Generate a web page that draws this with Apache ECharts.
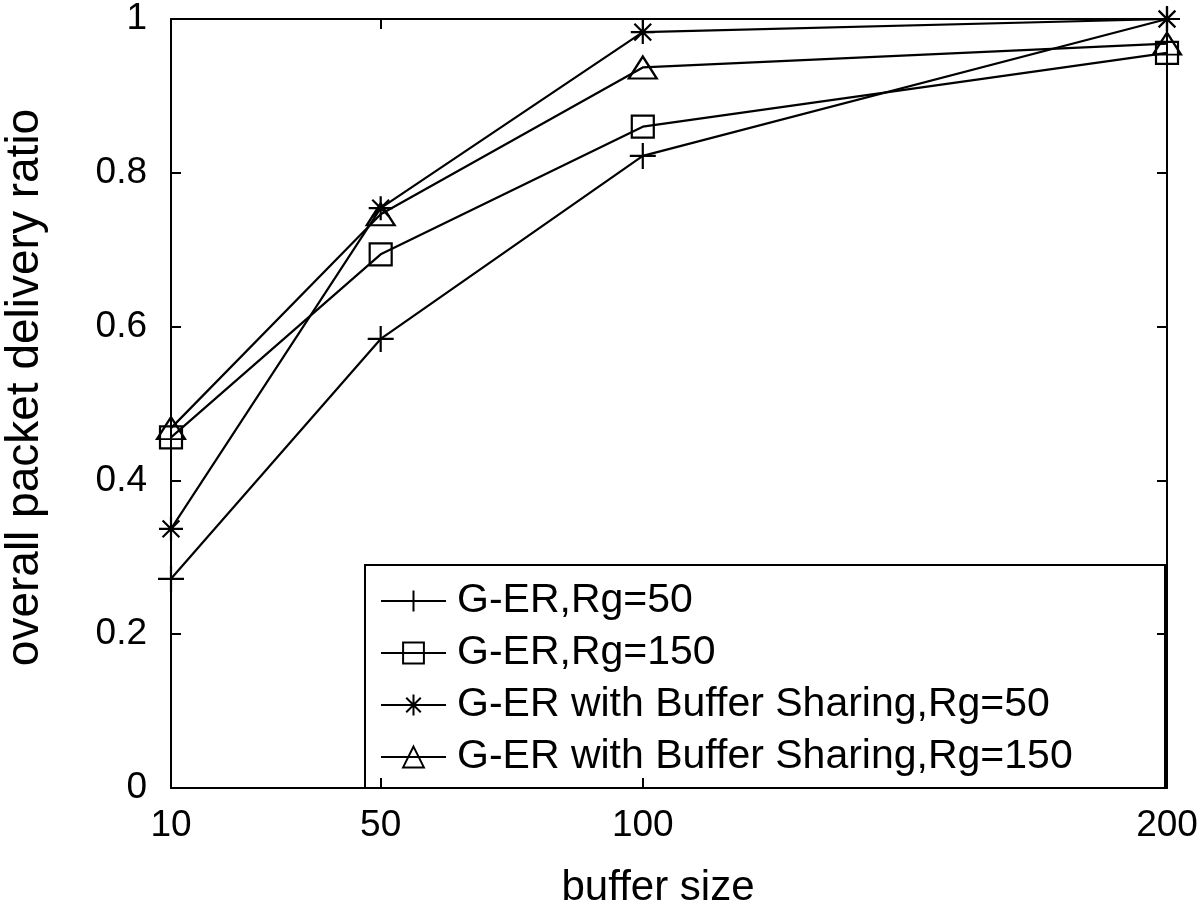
<!DOCTYPE html>
<html>
<head>
<meta charset="utf-8">
<script src="https://cdn.jsdelivr.net/npm/echarts@6/dist/echarts.min.js"></script>
<style>
html,body{margin:0;padding:0;background:#fff;}
#chart{width:1200px;height:912px;}
</style>
</head>
<body>
<div id="chart"></div>
<script>
var bufferSizes = [10, 50, 100, 200];
var xTicks = [10, 50, 100, 200];
var serNames = ['G-ER,Rg=50', 'G-ER,Rg=150', 'G-ER with Buffer Sharing,Rg=50', 'G-ER with Buffer Sharing,Rg=150'];
var gerRg50 = [0.272, 0.584, 0.822, 1.0];
var gerRg150 = [0.456, 0.694, 0.860, 0.956];
var bsRg50 = [0.337, 0.754, 0.983, 1.0];
var bsRg150 = [0.468, 0.746, 0.937, 0.968];

var FONT = '"Liberation Sans", Arial, Helvetica, sans-serif';
var plusPath = 'path://M0,-10 L0,10 M-10,0 L10,0';
var starPath = 'path://M0,-10 L0,10 M-10,0 L10,0 M-7,-7 L7,7 M-7,7 L7,-7';

function pairs(vals) {
  return bufferSizes.map(function (x, i) { return [x, vals[i]]; });
}
function mkSeries(name, vals, symbol, size) {
  return {
    name: name, type: 'line', data: pairs(vals), clip: false,
    symbol: symbol, symbolSize: size, showAllSymbol: true,
    lineStyle: { color: '#000', width: 2.2 },
    itemStyle: { color: 'rgba(255,255,255,0)', borderColor: '#000', borderWidth: 2.2 },
    emphasis: { disabled: true },
    animation: false
  };
}

var chart = echarts.init(document.getElementById('chart'));
var axisCommon = {
  axisLine: { show: true, onZero: false, lineStyle: { color: '#000', width: 2 } },
  axisTick: { show: true, inside: true, length: 10, lineStyle: { color: '#000', width: 2 } },
  splitLine: { show: false }
};
chart.setOption({
  backgroundColor: '#fff',
  animation: false,
  grid: { left: 171, right: 33, top: 19, bottom: 124, containLabel: false, outerBoundsMode: 'none' },
  xAxis: [
    Object.assign({}, axisCommon, {
      type: 'value', min: 10, max: 200, position: 'bottom',
      name: 'buffer size', nameLocation: 'middle', nameGap: 79,
      nameTextStyle: { fontSize: 42, fontFamily: FONT, color: '#000', verticalAlign: 'top', padding: [0, 22, 0, 0] },
      axisTick: Object.assign({}, axisCommon.axisTick, { customValues: xTicks }),
      axisLabel: { customValues: xTicks, fontSize: 37, fontFamily: FONT, color: '#000', margin: 19 }
    }),
    Object.assign({}, axisCommon, {
      type: 'value', min: 10, max: 200, position: 'top',
      axisTick: Object.assign({}, axisCommon.axisTick, { customValues: xTicks }),
      axisLabel: { show: false }
    })
  ],
  yAxis: [
    Object.assign({}, axisCommon, {
      type: 'value', min: 0, max: 1, interval: 0.2, position: 'left',
      name: 'overall packet delivery ratio', nameLocation: 'middle', nameGap: 123,
      nameTextStyle: { fontSize: 46, fontFamily: FONT, color: '#000', padding: [0, 0, 0, 32] },
      axisLabel: { fontSize: 37, fontFamily: FONT, color: '#000', margin: 24 }
    }),
    Object.assign({}, axisCommon, {
      type: 'value', min: 0, max: 1, interval: 0.2, position: 'right',
      axisLabel: { show: false }
    })
  ],
  legend: {
    orient: 'vertical', left: 365, top: 565,
    padding: [13, 10, 10, 15],
    itemWidth: 65, itemHeight: 26, itemGap: 6,
    textStyle: { fontSize: 41, fontFamily: FONT, color: '#000', lineHeight: 46, padding: [0, 0, 0, 6] },
    data: serNames,
    selectedMode: false
  },
  graphic: [{
    type: 'rect', z: -1,
    shape: { x: 365, y: 565, width: 800, height: 223 },
    style: { fill: '#fff', stroke: '#000', lineWidth: 2 }
  }],
  series: [
    mkSeries(serNames[0], gerRg50, plusPath, 26),
    mkSeries(serNames[1], gerRg150, 'rect', 22),
    mkSeries(serNames[2], bsRg50, starPath, 24),
    mkSeries(serNames[3], bsRg150, 'triangle', [28, 22])
  ]
});
</script>
</body>
</html>
